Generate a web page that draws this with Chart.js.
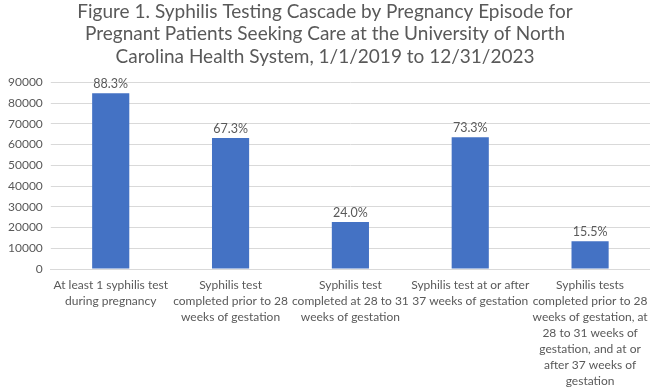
<!DOCTYPE html>
<html>
<head>
<meta charset="utf-8">
<script src="https://cdn.jsdelivr.net/npm/chart.js@4"></script>
<style>
  html, body { margin: 0; padding: 0; background: #fff; }
  .chart-box { width: 650px; height: 389px; }
</style>
</head>
<body>
<div class="chart-box"><canvas id="cascade"></canvas></div>
<script>
const categories = [
  ['At least 1 syphilis test', 'during pregnancy'],
  ['Syphilis test', 'completed prior to 28', 'weeks of gestation'],
  ['Syphilis test', 'completed at 28 to 31', 'weeks of gestation'],
  ['Syphilis test at or after', '37 weeks of gestation'],
  ['Syphilis tests', 'completed prior to 28', 'weeks of gestation, at', '28 to 31 weeks of', 'gestation, and at or', 'after 37 weeks of', 'gestation'],
];
const episodes = [84800, 63200, 22700, 63600, 13400];
const percentLabels = ['88.3%', '67.3%', '24.0%', '73.3%', '15.5%'];
const titleLines = [
  'Figure 1. Syphilis Testing Cascade by Pregnancy Episode for',
  'Pregnant Patients Seeking Care at the University of North',
  'Carolina Health System, 1/1/2019 to 12/31/2023',
];

const textGrey = '#595959';

// draws the percent text above each bar
const barPercents = {
  id: 'barPercents',
  afterDatasetsDraw(chart) {
    const ctx = chart.ctx;
    const meta = chart.getDatasetMeta(0);
    ctx.save();
    ctx.font = '12.5px Lato, sans-serif';
    ctx.fillStyle = textGrey;
    ctx.textAlign = 'center';
    ctx.textBaseline = 'bottom';
    meta.data.forEach((bar, i) => {
      ctx.fillText(percentLabels[i], bar.x, bar.y - 3);
    });
    ctx.restore();
  },
};

Chart.defaults.font.family = 'Lato, sans-serif';
Chart.defaults.color = textGrey;

new Chart(document.getElementById('cascade'), {
  type: 'bar',
  data: {
    labels: categories,
    datasets: [{
      data: episodes,
      backgroundColor: '#4472C4',
      barPercentage: 0.62,
      categoryPercentage: 0.5,
    }],
  },
  options: {
    responsive: true,
    maintainAspectRatio: false,
    animation: false,
    layout: { padding: { left: 0, right: 0, top: 0, bottom: 0 } },
    plugins: {
      legend: { display: false },
      tooltip: { enabled: false },
      title: {
        display: true,
        text: titleLines,
        color: textGrey,
        font: { size: 19, weight: 'normal' },
        lineHeight: 1.2,
        padding: { top: 0, bottom: 14 },
      },
    },
    scales: {
      x: {
        grid: { display: false },
        border: { color: '#d9d9d9' },
        ticks: {
          maxRotation: 0,
          autoSkip: false,
          font: { size: 12, lineHeight: '16px' },
          padding: 0,
        },
      },
      y: {
        min: 0,
        max: 90000,
        border: { display: false },
        grid: { color: '#d9d9d9', tickLength: 0 },
        ticks: {
          stepSize: 10000,
          font: { size: 12 },
          padding: 8,
          callback: (v) => String(v),
        },
      },
    },
  },
  plugins: [barPercents],
});
</script>
</body>
</html>
